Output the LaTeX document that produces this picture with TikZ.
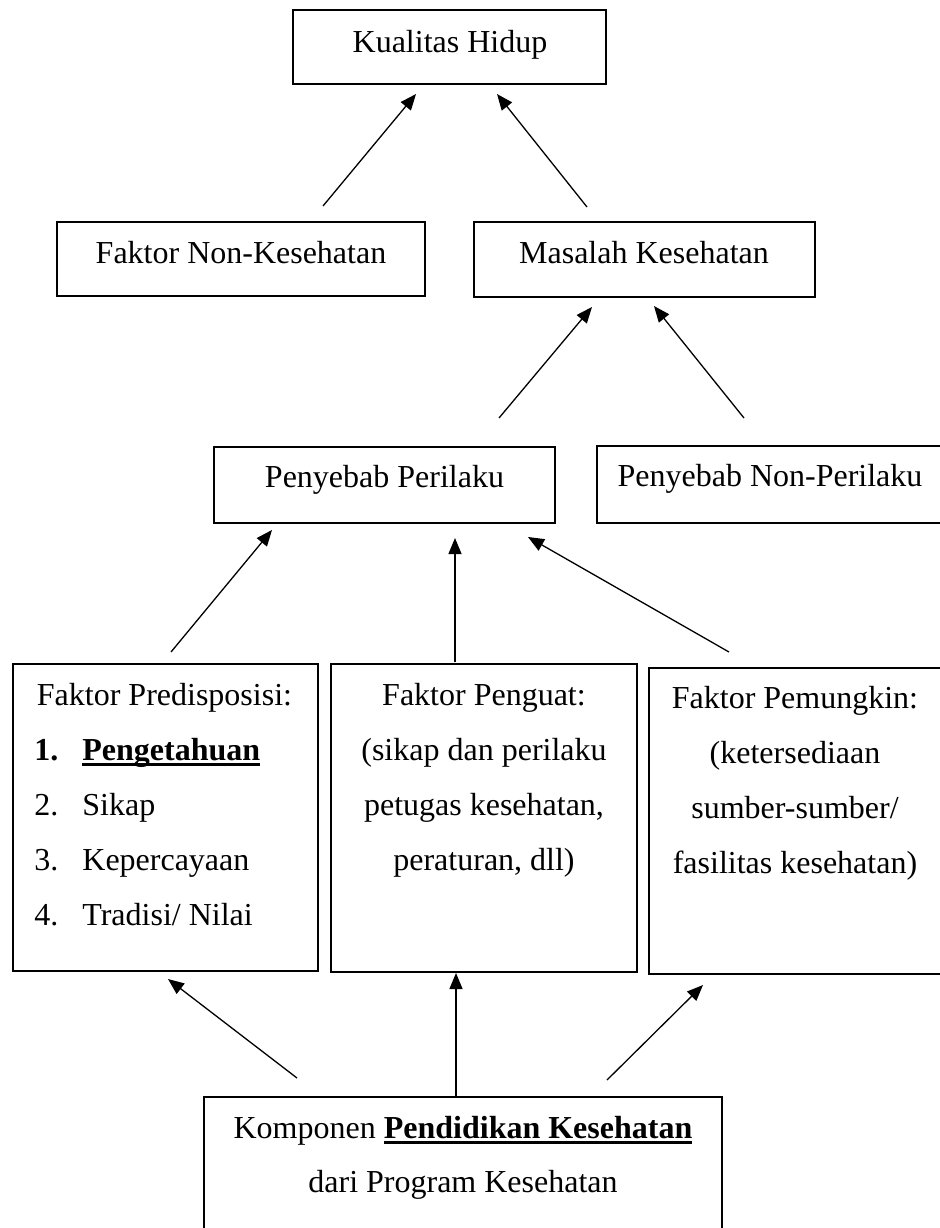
\documentclass[tikz,border=0pt]{standalone}
\usepackage{fontspec}
\setmainfont{Liberation Serif}
\usetikzlibrary{arrows.meta,fit}
\newsavebox\ulbox
\newcommand\ulbold[1]{\sbox\ulbox{\bfseries #1}\rlap{\rule[-3pt]{\wd\ulbox}{1.3pt}}\usebox\ulbox}
\begin{document}
\begin{tikzpicture}[x=0.5pt,y=-0.5pt,
  box/.style={draw, line width=1pt, inner sep=0pt},
  txt/.style={inner sep=0pt, anchor=base, font=\fontsize{16pt}{27.5pt}\selectfont},
  lst/.style={inner sep=0pt, anchor=base west, font=\fontsize{16pt}{27.5pt}\selectfont},
  arr/.style={line width=0.65pt, -{Triangle[length=8pt,width=6.5pt]}}]
\useasboundingbox (0,0) rectangle (940,1228);
\clip (0,0) rectangle (940,1228);

% boxes
\node[box, fit={(293,10) (606,84)}] (kh) {};
\node[box, fit={(57,222) (425,296)}] (fnk) {};
\node[box, fit={(474,222) (815,297)}] (mk) {};
\node[box, fit={(214,447) (555,523)}] (pp) {};
\node[box, fit={(597,446) (950,523)}] (pnp) {};
\node[box, fit={(13,664) (318,971)}] (fpd) {};
\node[box, fit={(331,664) (637,972)}] (fpg) {};
\node[box, fit={(649,668) (950,974)}] (fpm) {};
\node[box, fit={(204,1097) (722,1250)}] (kpn) {};

% texts
\node[txt] (tkh) at (450,52) {Kualitas Hidup};
\node[txt] (tfnk) at (241,263) {Faktor Non-Kesehatan};
\node[txt] (tmk) at (644,263) {Masalah Kesehatan};
\node[txt] (tpp) at (384.5,487) {Penyebab Perilaku};
\node[txt] (tpnp) at (770,486) {Penyebab Non-Perilaku};

\node[txt] (tfpd) at (164.5,705) {Faktor Predisposisi:};
\node[lst] (n1) at (34,760) {\bfseries 1.};
\node[lst] (i1) at (82,760) {\ulbold{Pengetahuan}};
\node[lst] (n2) at (34,815) {2.};
\node[lst] (i2) at (82,815) {Sikap};
\node[lst] (n3) at (34,870) {3.};
\node[lst] (i3) at (82,870) {Kepercayaan};
\node[lst] (n4) at (34,925) {4.};
\node[lst] (i4) at (82,925) {Tradisi/ Nilai};

\node[txt] (tg1) at (484,705) {Faktor Penguat:};
\node[txt] (tg2) at (484,760) {(sikap dan perilaku};
\node[txt] (tg3) at (484,815) {petugas kesehatan,};
\node[txt] (tg4) at (484,870) {peraturan, dll)};

\node[txt] (tm1) at (795,708) {Faktor Pemungkin:};
\node[txt] (tm2) at (795,763) {(ketersediaan};
\node[txt] (tm3) at (795,818) {sumber-sumber/};
\node[txt] (tm4) at (795,873) {fasilitas kesehatan)};

\node[txt] (tk1) at (463,1138) {Komponen \ulbold{Pendidikan Kesehatan}};
\node[txt] (tk2) at (463,1192) {dari Program Kesehatan};

% arrow end points
\coordinate (a1s) at (323,206);  \coordinate (a1e) at (416,94);
\coordinate (a2s) at (587,207);  \coordinate (a2e) at (497,94);
\coordinate (a3s) at (499,418);  \coordinate (a3e) at (592,307);
\coordinate (a4s) at (744,418);  \coordinate (a4e) at (654,306);
\coordinate (a5s) at (171,652);  \coordinate (a5e) at (272,530);
\coordinate (a6s) at (455,662);  \coordinate (a6e) at (455,538);
\coordinate (a7s) at (729,652);  \coordinate (a7e) at (528,537);
\coordinate (a8s) at (297,1078); \coordinate (a8e) at (168,979);
\coordinate (a9s) at (456,1096); \coordinate (a9e) at (456,973);
\coordinate (a10s) at (607,1080); \coordinate (a10e) at (703,985);

\draw[arr] (a1s) -- (a1e);
\draw[arr] (a2s) -- (a2e);
\draw[arr] (a3s) -- (a3e);
\draw[arr] (a4s) -- (a4e);
\draw[arr] (a5s) -- (a5e);
\draw[arr] (a6s) -- (a6e);
\draw[arr] (a7s) -- (a7e);
\draw[arr] (a8s) -- (a8e);
\draw[arr] (a9s) -- (a9e);
\draw[arr] (a10s) -- (a10e);
\end{tikzpicture}
\end{document}
